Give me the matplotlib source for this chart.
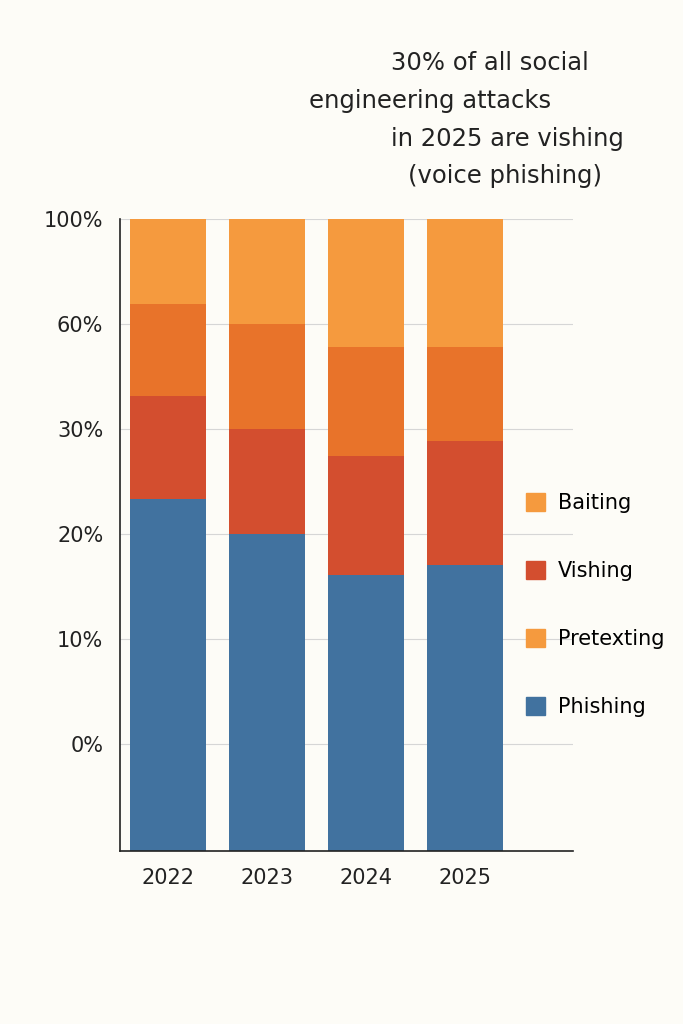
import matplotlib.pyplot as plt
from matplotlib.patches import Patch

years = ["2022", "2023", "2024", "2025"]
# segment heights as share of the drawn bar (axis runs 0..100)
phishing = [55.7, 50.2, 43.7, 45.3]
vishing = [16.3, 16.6, 18.8, 19.6]
pretexting = [14.6, 16.6, 17.2, 14.8]
baiting = [13.4, 16.6, 20.3, 20.3]
tick_pos = [16.9, 33.5, 50.2, 66.8, 83.4, 100]
tick_labels = ["0%", "10%", "20%", "30%", "60%", "100%"]

bg = "#FDFCF7"
colors = {"Phishing": "#41729F", "Vishing": "#D34E2F",
          "Pretexting": "#E8732A", "Baiting": "#F59A3E"}

fig = plt.figure(figsize=(6.83, 10.24), dpi=100, facecolor=bg)
ax = fig.add_axes([120 / 683, 173 / 1024, 453 / 683, 632 / 1024], facecolor=bg)

x = list(range(len(years)))
bottom = [0] * len(years)
for name, vals in [("Phishing", phishing), ("Vishing", vishing),
                   ("Pretexting", pretexting), ("Baiting", baiting)]:
    ax.bar(x, vals, bottom=bottom, width=0.76, color=colors[name], zorder=2)
    bottom = [b + v for b, v in zip(bottom, vals)]

ax.set_xlim(-0.485, 4.09)
ax.set_ylim(0, 100)
ax.set_yticks(tick_pos)
ax.set_yticklabels(tick_labels, fontsize=15, color="#222222")
ax.set_xticks(x)
ax.set_xticklabels(years, fontsize=15, color="#222222")
ax.tick_params(length=0, pad=12)
ax.grid(axis="y", color="#d6d6d6", linewidth=0.8, zorder=0)
for s in ["top", "right"]:
    ax.spines[s].set_visible(False)
for s in ["left", "bottom"]:
    ax.spines[s].set_color("#222222")
    ax.spines[s].set_linewidth(1.2)

handles = [Patch(color=colors["Baiting"], label="Baiting"),
           Patch(color=colors["Vishing"], label="Vishing"),
           Patch(color=colors["Baiting"], label="Pretexting"),
           Patch(color=colors["Phishing"], label="Phishing")]
fig.legend(handles=handles, loc="upper left", bbox_to_anchor=(518 / 683, 1 - 485 / 1024),
           frameon=False, fontsize=15, labelspacing=2.3, handlelength=0.9,
           handleheight=0.9, handletextpad=0.6, borderaxespad=0)

for txt, cx, cy in [("30% of all social", 490, 63), ("engineering attacks", 430, 101),
                    ("in 2025 are vishing", 507, 139), ("(voice phishing)", 505, 176)]:
    fig.text(cx / 683, 1 - cy / 1024, txt, ha="center", va="center",
             fontsize=17.5, color="#222222")

fig.savefig("out.png", dpi=100, facecolor=bg)
